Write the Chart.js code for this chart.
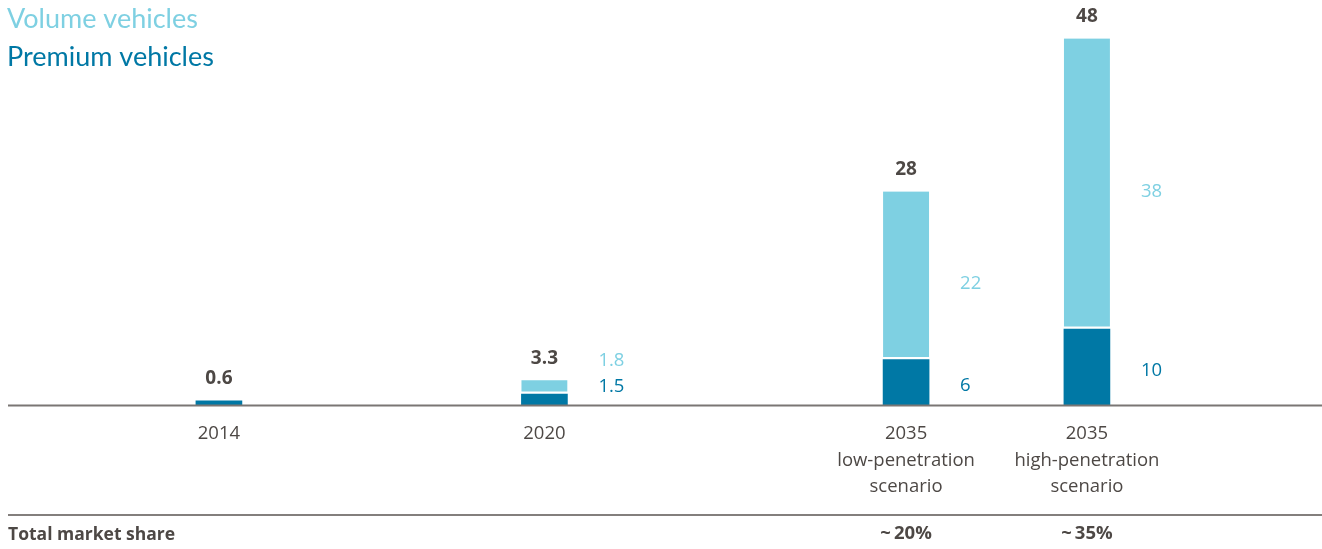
<!DOCTYPE html>
<html><head><meta charset="utf-8">
<script src="https://cdn.jsdelivr.net/npm/chart.js@4"></script>
<style>html,body{margin:0;padding:0;background:#fff}#wrap{width:1322px;height:549px;position:relative}</style>
</head><body><div id="wrap"><canvas id="c"></canvas></div>
<script>
// ---- data ----
const categories = ['2014', '2020', ['2035', 'low-penetration', 'scenario'], ['2035', 'high-penetration', 'scenario']];
const premium = [0.6, 1.5, 6, 10];
const volume = [null, 1.8, 22, 38];
const totals = ['0.6', '3.3', '28', '48'];
const premiumLabels = ['', '1.5', '6', '10'];
const volumeLabels = ['', '1.8', '22', '38'];
const marketShare = ['', '', '~\u200920%', '~\u200935%'];
const seriesNames = ['Volume vehicles', 'Premium vehicles'];
const rowTitle = 'Total market share';

// ---- layout (slot grid on the category axis) ----
const SLOTS = 36;
const slotOf = [5, 14, 24, 29];
const labels = Array.from({length: SLOTS}, () => '');
slotOf.forEach((s, i) => labels[s] = categories[i]);
function spread(arr) { const out = Array(SLOTS).fill(null); slotOf.forEach((s, i) => out[s] = arr[i]); return out; }

const C_VOL = '#7ED0E2';
const C_PREM = '#0078A5';
const C_TEXT = '#4D4845';
const FONT = '"Open Sans", sans-serif';
const LFONT = 'Lato, sans-serif';

const decor = {
  id: 'decor',
  afterDatasetsDraw(chart) {
    const ctx = chart.ctx;
    const y = chart.scales.y;
    const base = y.getPixelForValue(0);
    const W = chart.width;
    ctx.save();
    ctx.strokeStyle = '#7a7674';
    ctx.lineWidth = 2;
    ctx.beginPath(); ctx.moveTo(8, base); ctx.lineTo(W, base); ctx.stroke();
    ctx.strokeStyle = '#5a5552';
    ctx.lineWidth = 1.5;
    ctx.beginPath(); ctx.moveTo(8, 515); ctx.lineTo(W, 515); ctx.stroke();

    const pm = chart.getDatasetMeta(0), vm = chart.getDatasetMeta(1);
    ctx.textBaseline = 'middle';
    slotOf.forEach((s, i) => {
      const pe = pm.data[s], ve = vm.data[s];
      const top = (volume[i] != null) ? ve.y : pe.y;
      const cx = pe.x;
      const right = cx + pe.width / 2;
      ctx.font = 'bold 19px ' + FONT;
      ctx.fillStyle = C_TEXT;
      ctx.textAlign = 'center';
      ctx.fillText(totals[i], cx, top - 22);
      ctx.font = '18.5px ' + FONT;
      ctx.textAlign = 'left';
      let py = null;
      if (premiumLabels[i]) {
        py = Math.min((pe.y + pe.base) / 2 + 3, base - 19);
        ctx.fillStyle = C_PREM;
        ctx.fillText(premiumLabels[i], right + 31, py);
      }
      if (volumeLabels[i]) {
        let vy = (ve.y + ve.base) / 2 + 8;
        if (py != null) vy = Math.min(vy, py - 26);
        ctx.fillStyle = C_VOL;
        ctx.fillText(volumeLabels[i], right + 31, vy);
      }
      if (marketShare[i]) {
        ctx.font = 'bold 18.5px ' + FONT;
        ctx.fillStyle = C_TEXT;
        ctx.textAlign = 'center';
        ctx.fillText(marketShare[i], cx, 534);
      }
    });
    ctx.font = 'bold 17.5px ' + FONT;
    ctx.fillStyle = C_TEXT;
    ctx.textAlign = 'left';
    ctx.fillText(rowTitle, 8, 535);

    ctx.font = '27px ' + LFONT;
    ctx.fillStyle = C_VOL;
    ctx.fillText(seriesNames[0], 7, 19);
    ctx.fillStyle = C_PREM;
    ctx.fillText(seriesNames[1], 7, 57);
    ctx.restore();
  }
};

new Chart(document.getElementById('c'), {
  type: 'bar',
  data: {
    labels: labels,
    datasets: [
      { label: seriesNames[1], data: spread(premium), backgroundColor: C_PREM, barThickness: 46, borderWidth: 0, stack: 's' },
      { label: seriesNames[0], data: spread(volume), backgroundColor: C_VOL, barThickness: 46, stack: 's',
        borderColor: '#ffffff', borderWidth: {top: 0, left: 0, right: 0, bottom: 3}, borderSkipped: false }
    ]
  },
  options: {
    responsive: true,
    maintainAspectRatio: false,
    animation: false,
    layout: { padding: { left: 20, right: 0, top: 8, bottom: 34 } },
    plugins: { legend: { display: false }, tooltip: { enabled: false } },
    scales: {
      x: {
        stacked: true,
        grid: { display: false, drawTicks: false },
        border: { display: false },
        ticks: { autoSkip: false, maxRotation: 0, minRotation: 0, padding: 15, color: C_TEXT,
                 font: { family: FONT, size: 18.5, lineHeight: 1.432 } }
      },
      y: { stacked: true, display: false, min: 0, max: 52 }
    }
  },
  plugins: [decor]
});
</script>
</body></html>
